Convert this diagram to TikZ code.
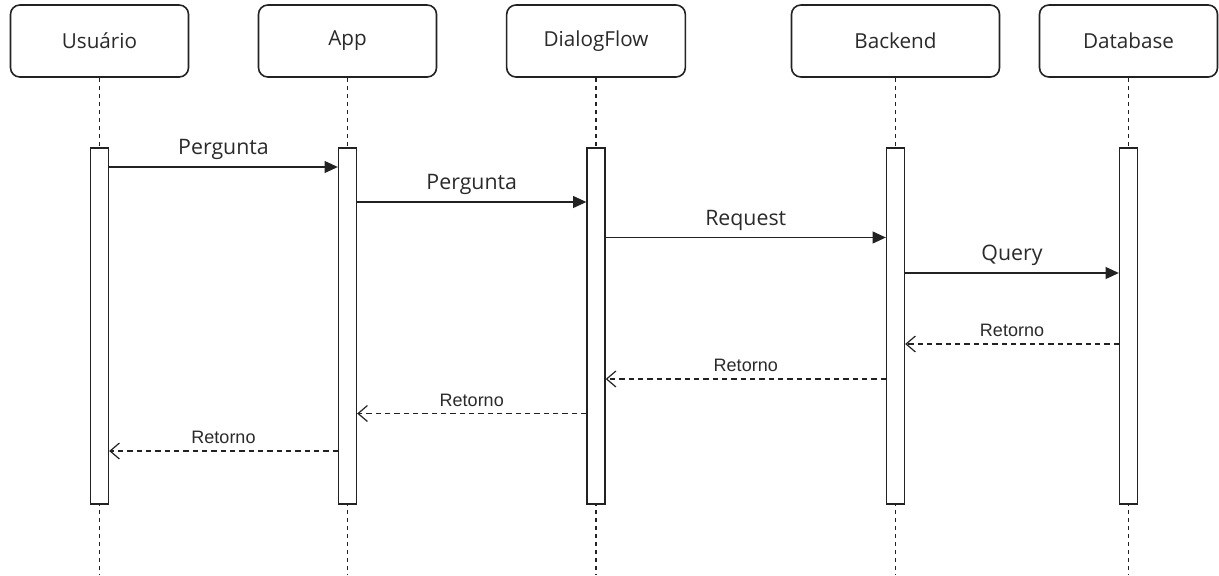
\documentclass[tikz,border=0pt]{standalone}
\usepackage{fontspec}
\setmainfont{Open Sans}
\newfontfamily\arialfont{Liberation Sans}
\usetikzlibrary{arrows.meta}
\definecolor{txt}{HTML}{2A2A2A}
\definecolor{ln}{HTML}{222222}
\tikzset{
  hdr/.style={draw=ln, line width=1.2pt, rounded corners=7pt, minimum height=54pt, inner sep=0pt, text=txt, font=\fontsize{15.5}{18}\selectfont, fill=white},
  actbar/.style={draw=ln, line width=1pt, minimum width=13.5pt, minimum height=267pt, inner sep=0pt, fill=white},
  life/.style={draw=ln, line width=0.9pt, dash pattern=on 3pt off 3pt},
  msg/.style={draw=ln, line width=1pt, -{Triangle[length=10pt,width=9pt]}},
  ret/.style={draw=ln, line width=0.9pt, dash pattern=on 4pt off 3pt, -{Straight Barb[length=7pt,width=12pt]}},
  mlab/.style={text=txt, font=\fontsize{16}{18}\selectfont, inner sep=0pt},
  rlab/.style={text=txt, font=\arialfont\fontsize{13.5}{16}\selectfont, inner sep=0pt},
}
\begin{document}
\begin{tikzpicture}[x=0.75pt, y=-0.75pt]
\useasboundingbox (0,0) rectangle (1219,575);
% bottom ends of lifelines
\coordinate (ubot) at (99.5,575);
\coordinate (abot) at (347.5,575);
\coordinate (dbot) at (596,575);
\coordinate (bbot) at (895.5,575);
\coordinate (dbbot) at (1128.5,575);
% headers
\node[hdr, minimum width=133.5pt] (hu) at (99.5,41) {Usuário};
\node[hdr, minimum width=133.5pt] (ha) at (347.5,41) {App};
\node[hdr, minimum width=134pt] (hd) at (596,41) {DialogFlow};
\node[hdr, minimum width=156pt] (hb) at (895.5,41) {Backend};
\node[hdr, minimum width=133.5pt] (hdb) at (1128.5,41) {Database};
% lifelines
\draw[life] (hu.south) -- (ubot);
\draw[life] (ha.south) -- (abot);
\draw[life] (hd.south) -- (dbot);
\draw[life] (hb.south) -- (bbot);
\draw[life] (hdb.south) -- (dbbot);
% activation bars
\node[actbar] (bu) at (99.5,326) {};
\node[actbar] (ba) at (347.5,326) {};
\node[actbar] (bd) at (596,326) {};
\node[actbar] (bb) at (895.5,326) {};
\node[actbar] (bdb) at (1128.5,326) {};
% message rows
\coordinate (m1) at (0,167);
\coordinate (m2) at (0,202);
\coordinate (m3) at (0,237.5);
\coordinate (m4) at (0,273);
\coordinate (r1) at (0,344);
\coordinate (r2) at (0,379);
\coordinate (r3) at (0,413.5);
\coordinate (r4) at (0,451);
\draw[msg] (bu.east |- m1) -- node[mlab, above=5pt] {Pergunta} (ba.west |- m1);
\draw[msg] (ba.east |- m2) -- node[mlab, above=5pt] {Pergunta} (bd.west |- m2);
\draw[msg] (bd.east |- m3) -- node[mlab, above=5pt] {Request} (bb.west |- m3);
\draw[msg] (bb.east |- m4) -- node[mlab, above=5pt] {Query} (bdb.west |- m4);
\draw[ret] (bdb.west |- r1) -- node[rlab, above=5pt] {Retorno} (bb.east |- r1);
\draw[ret] (bb.west |- r2) -- node[rlab, above=5pt] {Retorno} (bd.east |- r2);
\draw[ret] (bd.west |- r3) -- node[rlab, above=5pt] {Retorno} (ba.east |- r3);
\draw[ret] (ba.west |- r4) -- node[rlab, above=5pt] {Retorno} (bu.east |- r4);
\end{tikzpicture}
\end{document}
